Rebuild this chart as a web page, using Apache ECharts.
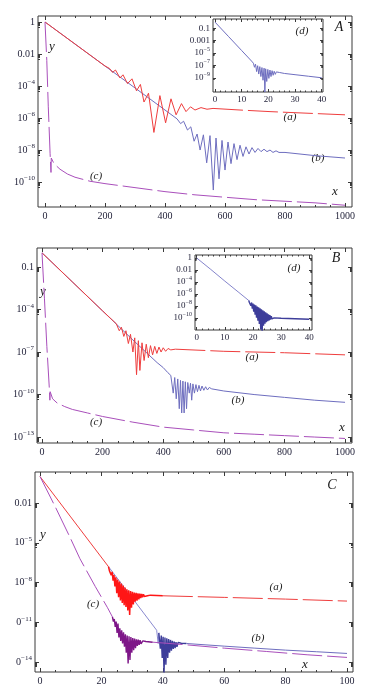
<!DOCTYPE html>
<html>
<head>
<meta charset="utf-8">
<title>decay curves</title>
<script src="https://cdn.jsdelivr.net/npm/echarts@6/dist/echarts.min.js"></script>
<style>
html, body { margin: 0; padding: 0; background: #fff; }
#main { width: 371px; height: 696px; }
</style>
</head>
<body>
<div id="main"></div>
<script>
// tick values (x) and exponents (y = log10 of the plotted value)
var xTicksMain = [0, 200, 400, 600, 800, 1000];
var xTicksC = [0, 20, 40, 60, 80, 100];
var xTicksInset = [0, 10, 20, 30, 40];
var yTicksA = [0, -2, -4, -6, -8, -10];
var yLabelsA = ['1', '0.01', '10^-4', '10^-6', '10^-8', '10^-10'];
var yTicksB = [-1, -4, -7, -10, -13];
var yLabelsB = ['0.1', '10^-4', '10^-7', '10^-10', '10^-13'];
var yTicksC = [-2, -5, -8, -11, -14];
var yLabelsC = ['0.01', '10^-5', '10^-8', '0^-11', '0^-14'];
var yTicksAd = [-1, -3, -5, -7, -9];
var yLabelsAd = ['0.1', '0.001', '10^-5', '10^-7', '10^-9'];
var yTicksBd = [0, -2, -4, -6, -8, -10];
var yLabelsBd = ['1', '0.01', '10^-4', '10^-6', '10^-8', '10^-10'];

// panel A : [x, log10 y]
var aA = [[0,0],[100,-1.375],[200,-2.75],[215,-2.9],[225,-3.15],[235,-3.0],[250,-3.5],[260,-3.3],[275,-3.85],[290,-3.55],[305,-4.3],[318,-3.9],[330,-5.0],[345,-4.45],[363,-6.9],[383,-4.6],[402,-6.3],[420,-4.8],[437,-5.8],[455,-5.1],[470,-5.6],[485,-5.3],[500,-5.5],[520,-5.35],[540,-5.45],[560,-5.4]];
var aAtail = [[560,-5.4],[650,-5.5],[750,-5.6],[850,-5.68],[1000,-5.8]];
var bA = [[0,0],[200,-2.75],[300,-4.12],[400,-5.5],[440,-6.05],[452,-6.35],[462,-6.2],[475,-6.75],[486,-6.55],[497,-7.45],[507,-7.0],[517,-8.0],[528,-7.05],[539,-8.8],[550,-7.1],[561,-10.5],[570,-7.25],[580,-9.8],[590,-7.4],[600,-9.25],[610,-7.5],[620,-8.85],[630,-7.6],[640,-8.6],[650,-7.7],[660,-8.4],[670,-7.8],[680,-8.25],[690,-7.85],[700,-8.15],[710,-7.9],[720,-8.1],[730,-7.95],[740,-8.1],[750,-8.0],[760,-8.15],[770,-8.05],[780,-8.15],[800,-8.15],[900,-8.35],[1000,-8.5]];
var cA = [[0,0],[6,-2.4],[11,-5.3],[17,-8.2],[20,-9.4],[21,-8.5],[30,-8.85],[50,-9.2],[75,-9.5],[100,-9.7],[150,-9.95],[200,-10.1],[300,-10.35],[400,-10.6],[500,-10.8],[600,-10.95],[700,-11.1],[800,-11.2],[900,-11.3],[1000,-11.45]];
var dA = [[0,0],[5,-2.3],[10,-4.6],[13.7,-6.3],[14.4,-6.65],[14.8,-7.3],[15.2,-6.8],[15.6,-8.0],[16.0,-7.05],[16.4,-8.4],[16.8,-7.2],[17.2,-8.8],[17.6,-7.35],[18.0,-9.4],[18.4,-7.45],[18.7,-11.3],[19.0,-7.55],[19.4,-9.6],[19.8,-7.65],[20.2,-9.1],[20.6,-7.75],[21.0,-8.8],[21.4,-7.85],[21.8,-8.6],[22.2,-7.95],[22.6,-8.45],[23.0,-8.05],[23.6,-8.3],[24.2,-8.15],[26,-8.3],[30,-8.5],[35,-8.75],[40,-9.0]];

// panel B
var aB = [[0,0],[100,-2.05],[200,-4.1],[245,-5.0],[255,-5.5],[262,-5.25],[270,-5.9],[277,-5.5],[285,-6.4],[292,-5.75],[300,-7.0],[306,-6.0],[312,-8.6],[318,-6.2],[323,-8.3],[330,-6.35],[337,-7.6],[344,-6.45],[351,-7.4],[358,-6.55],[365,-7.2],[372,-6.6],[379,-7.1],[386,-6.65],[393,-7.0],[400,-6.7],[408,-6.95],[416,-6.75],[425,-6.85],[440,-6.8]];
var aBtail = [[440,-6.8],[600,-6.95],[800,-7.05],[1000,-7.2]];
var bB = [[0,0],[200,-4.1],[300,-6.15],[350,-7.15],[380,-7.75],[400,-8.1],[415,-8.45],[425,-8.65],[433,-9.9],[438,-8.8],[443,-10.3],[448,-8.9],[453,-11.0],[457,-9.0],[461,-11.3],[465,-9.05],[469,-11.3],[473,-9.1],[477,-11.0],[481,-9.15],[486,-9.9],[490,-9.2],[494,-10.4],[498,-9.25],[503,-9.9],[508,-9.3],[513,-9.8],[518,-9.35],[523,-9.75],[528,-9.4],[534,-9.7],[540,-9.45],[546,-9.68],[552,-9.5],[560,-9.6],[600,-9.75],[700,-10.0],[800,-10.2],[900,-10.4],[1000,-10.55]];
var cB = [[0,0],[8,-3.2],[16,-6.6],[24,-9.5],[26,-10.4],[27,-9.8],[35,-10.3],[50,-10.6],[75,-10.85],[100,-11.05],[150,-11.3],[200,-11.55],[300,-11.95],[400,-12.3],[500,-12.5],[600,-12.7],[700,-12.8],[800,-12.9],[900,-13.0],[1000,-13.1]];
var dBline = [[0,0],[5,-1.9],[10,-3.85],[15,-5.75],[18.5,-7.09]];
var dBosc = [[18.5,-7.09],[18.75,-7.45],[19.0,-7.25],[19.25,-7.95],[19.5,-7.41],[19.75,-8.45],[20.0,-7.58],[20.25,-8.95],[20.5,-7.74],[20.75,-9.45],[21.0,-7.9],[21.25,-9.95],[21.5,-8.07],[21.75,-10.45],[22.0,-8.23],[22.25,-11.0],[22.5,-8.39],[22.75,-11.9],[23.0,-8.56],[23.25,-12.4],[23.5,-8.72],[23.75,-11.3],[24.0,-8.88],[24.25,-10.95],[24.5,-9.04],[24.75,-10.7],[25.0,-9.21],[25.25,-10.55],[25.5,-9.37],[25.75,-10.4],[26.0,-9.53],[26.25,-10.25],[26.5,-9.69],[26.75,-10.15],[27.0,-9.86],[27.25,-10.05],[27.5,-9.98],[30,-10.05],[35,-10.12],[40,-10.2]];

// panel C
var aC = [[0,0],[10,-3.05],[22.3,-6.8]];
var aCosc = [[22.3,-6.8],[22.6,-7.1],[22.9,-7.0],[23.2,-7.45],[23.5,-7.2],[23.8,-7.85],[24.1,-7.43],[24.4,-8.3],[24.7,-7.6],[25.0,-8.8],[25.3,-7.77],[25.6,-9.1],[25.9,-7.93],[26.2,-9.35],[26.5,-8.07],[26.8,-9.55],[27.1,-8.22],[27.4,-9.72],[27.7,-8.37],[28.0,-9.85],[28.3,-8.5],[28.6,-10.1],[28.9,-8.58],[29.2,-10.45],[29.5,-8.65],[29.8,-9.9],[30.1,-8.7],[30.4,-9.65],[30.7,-8.75],[31.0,-9.45],[31.3,-8.78],[31.6,-9.37],[31.9,-8.81],[32.2,-9.27],[32.5,-8.84],[32.8,-9.18],[33.1,-8.86],[33.4,-9.12],[33.7,-8.89],[34.0,-9.05],[34.5,-8.9],[35.0,-9.0],[36,-8.95],[38,-8.97],[40,-9.0]];
var aCtail = [[40,-9.0],[60,-9.12],[80,-9.25],[100,-9.4]];
var bC = [[22.3,-6.8],[30,-9.15],[38,-11.6],[38.5,-12.6],[38.7,-11.8]];
var bCosc = [[38.7,-11.8],[38.9,-11.95],[39.2,-13.0],[39.5,-12.0],[39.8,-13.7],[40.1,-12.1],[40.4,-14.8],[40.7,-12.15],[41.0,-14.2],[41.3,-12.2],[41.6,-13.7],[41.9,-12.27],[42.2,-13.3],[42.5,-12.33],[42.8,-13.15],[43.1,-12.4],[43.4,-13.0],[43.7,-12.45],[44.0,-12.95],[44.3,-12.5],[44.6,-12.85],[45.0,-12.52],[46,-12.58],[47.7,-12.6]];
var bCtail = [[47.7,-12.6],[60,-12.8],[70,-12.95],[80,-13.1],[90,-13.22],[100,-13.35]];
var cC = [[0,0],[5,-2.3],[10,-4.7],[13,-6.2],[18,-8.3],[22,-9.9],[23.6,-10.6]];
var cCosc = [[23.6,-10.6],[23.9,-10.95],[24.2,-10.75],[24.5,-11.35],[24.8,-10.95],[25.1,-11.8],[25.4,-11.1],[25.7,-12.15],[26.0,-11.45],[26.3,-12.4],[26.6,-11.6],[26.9,-12.6],[27.2,-11.75],[27.5,-12.85],[27.8,-11.9],[28.1,-13.3],[28.4,-12.0],[28.7,-14.1],[29.0,-12.05],[29.3,-13.85],[29.6,-12.12],[29.9,-13.3],[30.2,-12.18],[30.5,-13.1],[30.8,-12.23],[31.1,-12.95],[31.4,-12.28],[31.7,-12.78],[32.0,-12.31],[32.3,-12.7],[32.6,-12.35],[32.9,-12.62],[33.5,-12.4],[34.5,-12.45],[36.7,-12.5]];
var cCtail = [[36.7,-12.5],[47.7,-12.7],[60,-12.95],[73.7,-13.2],[87,-13.45],[100,-13.65]];

var frame = '#3a3a3a';
var ink = '#1e1e36';
var serif = '"Liberation Serif", "DejaVu Serif", serif';
var red = '#ef3d3d', blue = '#6e6ebf', purple = '#a94fbb';
var redDeep = '#ff1616', blueDeep = '#3d3d9a', purpleDeep = '#7e1688';

function supLabel(s) {
    var p = s.split('^');
    if (p.length < 2) return '{b|' + s + '}';
    return '{b|' + p[0] + '}{s|' + p[1].replace('-', '\u2212') + '}';
}

function steps(a, b, step, skip) {
    var out = [];
    for (var v = a; v <= b + 1e-9; v += step) {
        var r = Math.round(v * 1000) / 1000;
        if (skip.indexOf(r) < 0) out.push(r);
    }
    return out;
}

// small ticks bunched under every labelled decade
function logMinor(majors) {
    var out = [];
    majors.forEach(function (m) {
        [5, 6, 7, 8, 9].forEach(function (k) { out.push(m - 1 + Math.log10(k)); });
    });
    return out;
}

function makeAxis(g, pos, r, ticks, len, labels, vals, fs, margin) {
    var ax = {
        type: 'value', gridIndex: g, position: pos, min: r[0], max: r[1],
        axisLine: { show: false, onZero: false },
        splitLine: { show: false },
        axisTick: { show: true, inside: true, length: len, customValues: ticks,
            lineStyle: { color: frame, width: 1 } },
        axisLabel: { show: false }
    };
    if (labels) {
        ax.axisLabel = {
            show: true, customValues: vals, margin: margin,
            fontSize: fs, fontFamily: serif, color: ink,
            formatter: function (v) {
                var i = vals.indexOf(v);
                return i < 0 ? '' : supLabel(labels[i]);
            },
            rich: {
                b: { fontSize: fs, fontFamily: serif, color: ink, lineHeight: fs + 4 },
                s: { fontSize: fs - 3, fontFamily: serif, color: ink, verticalAlign: 'top', lineHeight: fs - 3 }
            }
        };
    }
    return ax;
}

var grids = [], xAxes = [], yAxes = [];

function addPanel(p) {
    var g = grids.length;
    grids.push({
        left: p.box[0], top: p.box[1],
        width: p.box[2] - p.box[0], height: p.box[3] - p.box[1],
        show: true, backgroundColor: '#fff', borderColor: frame, borderWidth: 1,
        containLabel: false, outerBoundsMode: 'none'
    });
    var ix = xAxes.length, iy = yAxes.length;
    var big = p.inset ? 3 : 4, small = p.inset ? 1.5 : 2, fs = p.inset ? 9 : 10;
    ['bottom', 'top'].forEach(function (pos) {
        xAxes.push(makeAxis(g, pos, p.xr, p.xt, big, pos === 'bottom' ? p.xt.map(String) : null, p.xt, fs, p.inset ? 1 : 2));
        xAxes.push(makeAxis(g, pos, p.xr, p.xm, small));
    });
    ['left', 'right'].forEach(function (pos) {
        yAxes.push(makeAxis(g, pos, p.yr, p.yt, big, pos === 'left' ? p.yl : null, p.yt, fs, 3));
        yAxes.push(makeAxis(g, pos, p.yr, logMinor(p.yt), small));
    });
    return { x: ix, y: iy };
}

var pA = addPanel({ box: [38, 16, 352, 207], xr: [-23.3, 1023.3], yr: [-11.56, 0.375],
    xt: xTicksMain, xm: steps(0, 1000, 50, xTicksMain), yt: yTicksA, yl: yLabelsA });
var pB = addPanel({ box: [37, 248, 352, 443], xr: [-16.5, 1023], yr: [-13.42, 0.34],
    xt: xTicksMain, xm: steps(0, 1000, 50, xTicksMain), yt: yTicksB, yl: yLabelsB });
var pC = addPanel({ box: [35, 472, 353, 672], xr: [-1.63, 101.95], yr: [-14.75, 0.34],
    xt: xTicksC, xm: steps(0, 100, 5, xTicksC), yt: yTicksC, yl: yLabelsC });
var pAd = addPanel({ box: [213, 19, 323, 92], xr: [-0.75, 40.49], yr: [-11.3, 0.5], inset: true,
    xt: xTicksInset, xm: steps(0, 40, 2, xTicksInset), yt: yTicksAd, yl: yLabelsAd });
var pBd = addPanel({ box: [195, 255, 312, 330], xr: [-0.6, 40.96], yr: [-12, 0.5], inset: true,
    xt: xTicksInset, xm: steps(0, 40, 2, xTicksInset), yt: yTicksBd, yl: yLabelsBd });

function curve(p, data, color, dash, width) {
    return {
        type: 'line', xAxisIndex: p.x, yAxisIndex: p.y, data: data,
        symbol: 'none', showSymbol: false, silent: true, animation: false, clip: true,
        lineStyle: { color: color, width: width || 1, type: dash ? [30, 5] : 'solid' }
    };
}

var notes = [
    ['A', 339, 27, 14], ['y', 52, 47, 13], ['x', 335, 192, 13],
    ['(a)', 290, 117, 11], ['(b)', 318, 158, 11], ['(c)', 96, 176, 11], ['(d)', 302, 31, 11],
    ['B', 336, 258, 14], ['y', 43, 292, 13], ['x', 342, 428, 13],
    ['(a)', 252, 357, 11], ['(b)', 238, 400, 11], ['(c)', 96, 422, 11], ['(d)', 294, 268, 11],
    ['C', 332, 485, 14], ['y', 43, 535, 13], ['x', 305, 665, 13],
    ['(a)', 276, 587, 11], ['(b)', 258, 638, 11], ['(c)', 93, 604, 11]
];

var myChart = echarts.init(document.getElementById('main'), null, { renderer: 'canvas' });
var option = {
    backgroundColor: '#fff',
    animation: false,
    grid: grids,
    xAxis: xAxes,
    yAxis: yAxes,
    series: [
        curve(pA, bA, blue),
        curve(pA, aA, red),
        curve(pA, aAtail, red, true),
        curve(pA, cA, purple, true),
        curve(pAd, dA, blue),

        curve(pB, bB, blue),
        curve(pB, aB, red),
        curve(pB, aBtail, red, true),
        curve(pB, cB, purple, true),
        curve(pBd, dBline, '#8585cc'),
        curve(pBd, dBosc, blueDeep, false, 1.4),

        curve(pC, bC, '#8a8ad0'),
        curve(pC, bCosc, blueDeep, false, 1.4),
        curve(pC, bCtail, blue),
        curve(pC, aC, red),
        curve(pC, aCosc, redDeep, false, 1.5),
        curve(pC, aCtail, red, true),
        curve(pC, cC, purple, true),
        curve(pC, cCosc, purpleDeep, false, 1.4),
        curve(pC, cCtail, purple, true)
    ],
    graphic: notes.map(function (n) {
        return {
            type: 'text', x: n[1], y: n[2], silent: true,
            style: { text: n[0], font: 'italic ' + n[3] + 'px ' + serif, fill: '#1a1a1a',
                align: 'center', verticalAlign: 'middle' }
        };
    })
};
myChart.setOption(option);
window.addEventListener("resize", function () {
    myChart.resize();
});
</script>
</body>
</html>
